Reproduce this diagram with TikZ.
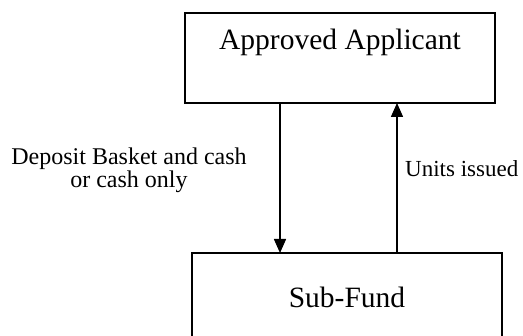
\documentclass[tikz,border=0pt]{standalone}
\usepackage{fontspec}
\setmainfont{Liberation Serif}
\usetikzlibrary{arrows.meta}
\begin{document}
\begin{tikzpicture}[x=1pt,y=-1pt,
  box/.style={draw=black,line width=1.8pt,minimum width=310pt,minimum height=90pt,inner sep=0pt,outer sep=0pt},
  boxtext/.style={font=\fontsize{29.5}{33}\selectfont,inner sep=0pt,anchor=base},
  lbl/.style={font=\fontsize{24}{23}\selectfont,inner sep=0pt,align=center},
  lblb/.style={font=\fontsize{23}{28}\selectfont,inner sep=0pt,anchor=base west},
  arr/.style={line width=1.5pt,-{Triangle[length=14pt,width=12pt]}}]
\useasboundingbox (0,0) rectangle (523,336);
\clip (0,0) rectangle (523,336);
\node[box] (aa) at (340,58) {};
\node[boxtext] (aat) at (340,50) {Approved Applicant};
\node[box] (sf) at (347,298) {};
\node[boxtext] (sft) at (347,308) {Sub-Fund};
\coordinate (d) at (280,0);
\coordinate (u) at (397,0);
\draw[arr] (aa.south -| d) -- (sf.north -| d);
\draw[arr] (sf.north -| u) -- (aa.south -| u);
\node[lbl,anchor=base] (dl) at (129,188) {Deposit Basket and cash\\or cash only};
\node[lblb] (ul) at (405,177) {Units issued};
\end{tikzpicture}
\end{document}
